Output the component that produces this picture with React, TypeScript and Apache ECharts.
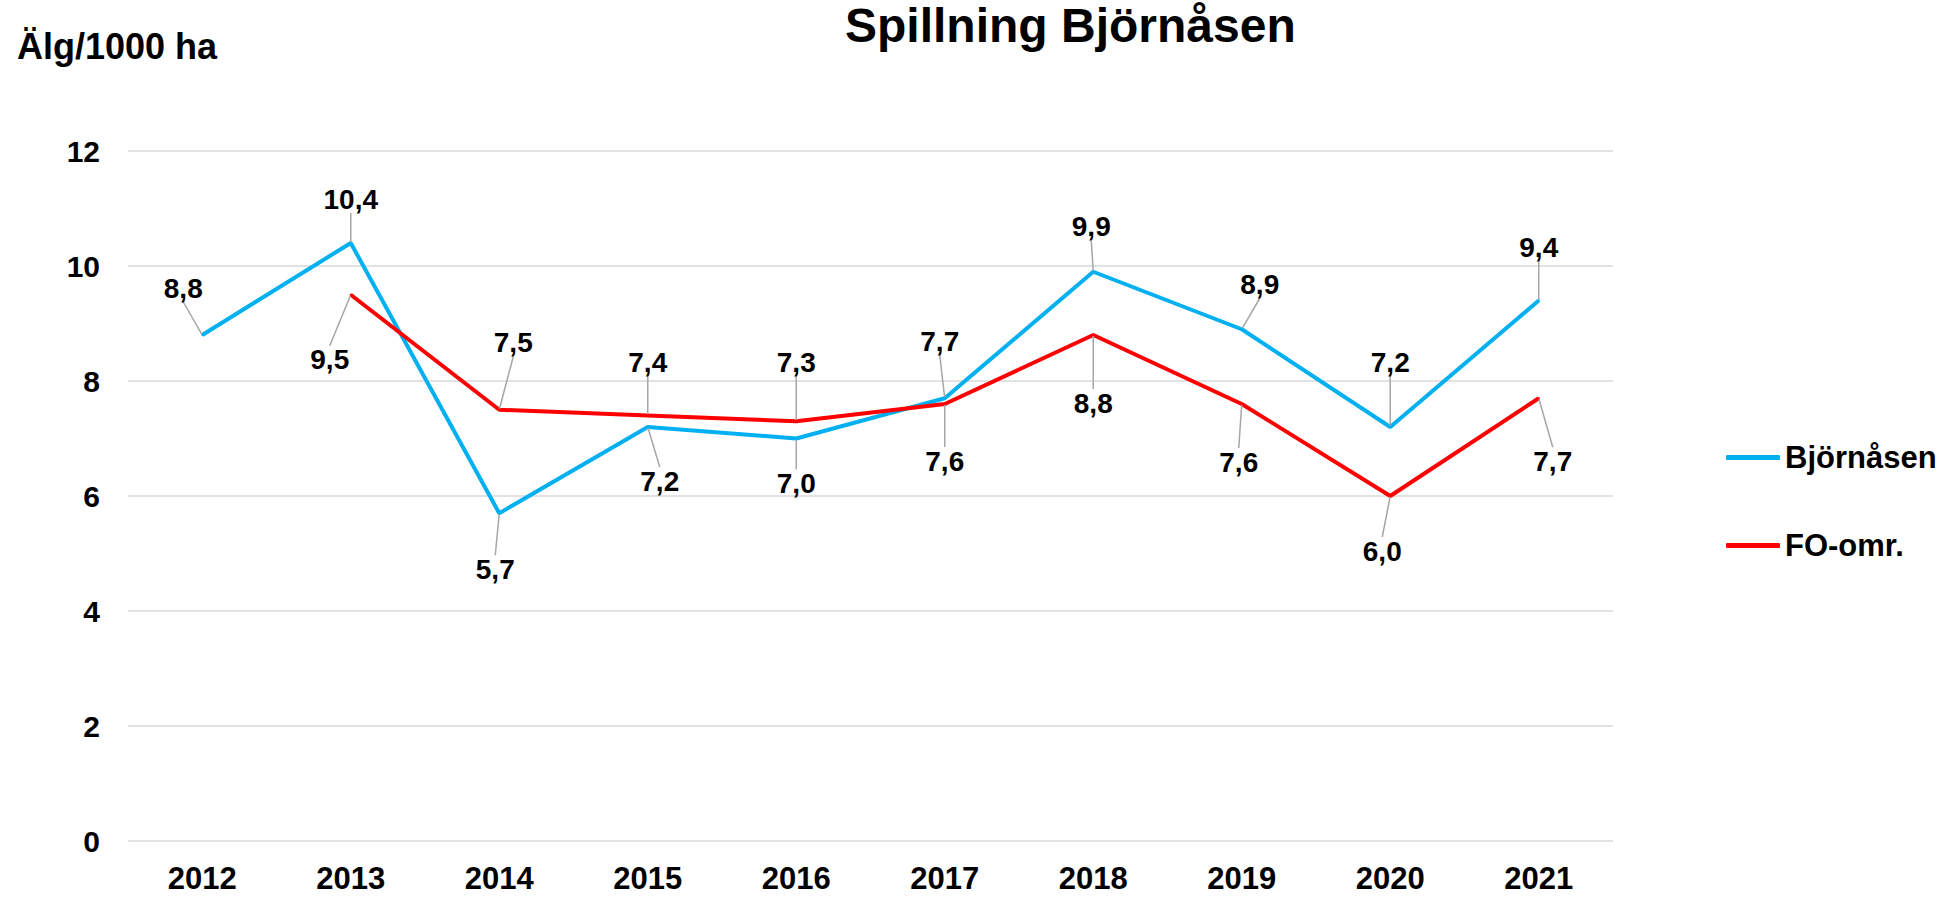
import React, { useEffect, useRef } from "react";
import * as echarts from "echarts";

const years = ["2012", "2013", "2014", "2015", "2016", "2017", "2018", "2019", "2020", "2021"];
const bjornasen = [8.8, 10.4, 5.7, 7.2, 7.0, 7.7, 9.9, 8.9, 7.2, 9.4];
const foOmr = [null, 9.5, 7.5, 7.4, 7.3, 7.6, 8.8, 7.6, 6.0, 7.7];
const yTicks = { min: 0, max: 12, interval: 2 };

// label offsets (px) relative to each point, for the leader-line layout
const bjLabelOffsets = [
  [-19, -47], [0, -44], [-4, 56], [12, 54], [0, 45],
  [-5, -57], [-2, -45], [18, -45], [0, -65], [0, -53],
];
const foLabelOffsets = [
  [0, 0], [-21, 65], [14, -67], [0, -53], [0, -59],
  [0, 57], [0, 68], [-3, 58], [-8, 55], [14, 63],
];

const FONT = "'Liberation Sans', Arial, sans-serif";

export default function App() {
  const ref = useRef<HTMLDivElement>(null);

  useEffect(() => {
    if (!ref.current) return;
    const chart = echarts.init(ref.current, null, { renderer: "svg" });

    const fmt = (p: any) =>
      p.value == null ? "" : Number(p.value).toFixed(1).replace(".", ",");

    const labelCfg = {
      show: true,
      position: "inside",
      formatter: fmt,
      color: "#000",
      fontFamily: FONT,
      fontWeight: "bold",
      fontSize: 28,
    };
    const labelLineCfg = {
      show: true,
      length2: 0,
      lineStyle: { color: "#a6a6a6", width: 1.5 },
    };

    chart.setOption({
      animation: false,
      backgroundColor: "#fff",
      textStyle: { fontFamily: FONT },
      title: [
        {
          text: "Spillning Björnåsen",
          left: 845,
          top: 1,
          padding: 0,
          textStyle: { fontFamily: FONT, fontWeight: "bold", fontSize: 48, color: "#000" },
        },
        {
          text: "Älg/1000 ha",
          left: 17,
          top: 28,
          padding: 0,
          textStyle: { fontFamily: FONT, fontWeight: "bold", fontSize: 36, color: "#000" },
        },
      ],
      legend: {
        orient: "vertical",
        left: 1726,
        top: 442,
        itemGap: 57,
        itemWidth: 54,
        itemHeight: 5,
        icon: "roundRect",
        padding: 0,
        textStyle: { fontFamily: FONT, fontWeight: "bold", fontSize: 31, color: "#000" },
        data: ["Björnåsen", "FO-omr."],
      },
      grid: { left: 128, right: 342, top: 151, bottom: 59 },
      xAxis: {
        type: "category",
        data: years,
        boundaryGap: true,
        axisLine: { show: false },
        axisTick: { show: false },
        axisLabel: {
          margin: 22,
          color: "#000",
          fontFamily: FONT,
          fontWeight: "bold",
          fontSize: 31,
        },
      },
      yAxis: {
        type: "value",
        min: yTicks.min,
        max: yTicks.max,
        interval: yTicks.interval,
        axisLine: { show: false },
        axisTick: { show: false },
        splitLine: { lineStyle: { color: "#d9d9d9", width: 1.5 } },
        axisLabel: {
          margin: 28,
          color: "#000",
          fontFamily: FONT,
          fontWeight: "bold",
          fontSize: 30,
        },
      },
      series: [
        {
          name: "Björnåsen",
          type: "line",
          data: bjornasen,
          symbol: "circle",
          symbolSize: 2,
          showSymbol: true,
          color: "#00B0F0",
          lineStyle: { color: "#00B0F0", width: 4 },
          label: labelCfg,
          labelLine: labelLineCfg,
          labelLayout: (p: any) => ({
            dx: bjLabelOffsets[p.dataIndex][0],
            dy: bjLabelOffsets[p.dataIndex][1],
            hideOverlap: false,
          }),
          emphasis: { disabled: true },
        },
        {
          name: "FO-omr.",
          type: "line",
          data: foOmr,
          symbol: "circle",
          symbolSize: 2,
          showSymbol: true,
          color: "#FF0000",
          lineStyle: { color: "#FF0000", width: 4 },
          label: labelCfg,
          labelLine: labelLineCfg,
          labelLayout: (p: any) => ({
            dx: foLabelOffsets[p.dataIndex][0],
            dy: foLabelOffsets[p.dataIndex][1],
            hideOverlap: false,
          }),
          emphasis: { disabled: true },
        },
      ],
    });

    return () => chart.dispose();
  }, []);

  return (
    <div
      ref={ref}
      style={{ position: "absolute", left: 0, top: 0, width: 1955, height: 900 }}
    />
  );
}
